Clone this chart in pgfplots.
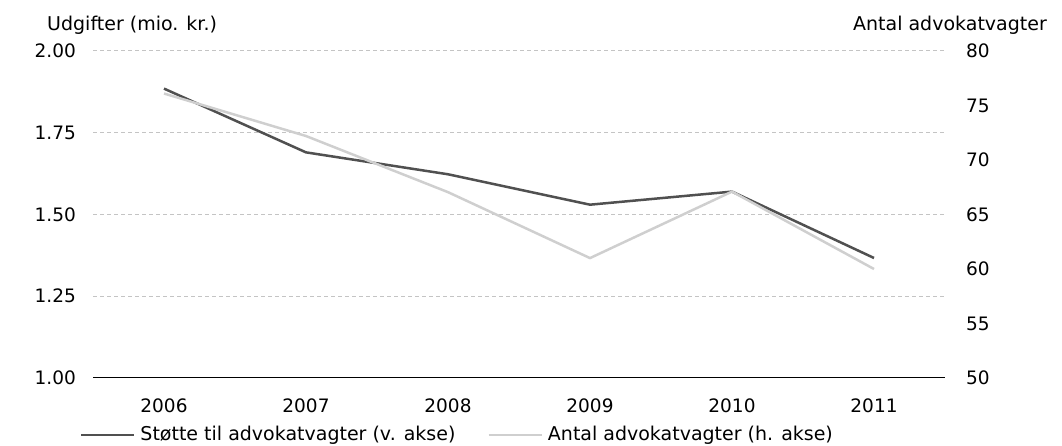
\documentclass[border=0pt]{standalone}
\usepackage{pgfplots}
\pgfplotsset{compat=1.18}
\usepackage{fontspec}
\setmainfont{DejaVu Sans}
\definecolor{darkline}{HTML}{505050}
\definecolor{lightline}{HTML}{CFCFCF}
\definecolor{gridc}{HTML}{C4C4C4}
\begin{document}
\fontsize{18bp}{22bp}\selectfont
\begin{tikzpicture}
\useasboundingbox (0,0) rectangle (1062bp,446bp);
\begin{axis}[
  at={(93bp,68bp)}, anchor=south west,
  scale only axis, width=852bp, height=327bp,
  xmin=-0.5, xmax=5.5, ymin=1, ymax=2,
  xtick={0,1,2,3,4,5},
  xticklabels={2006,2007,2008,2009,2010,2011},
  ytick={1,1.25,1.5,1.75,2},
  yticklabel style={/pgf/number format/fixed,/pgf/number format/precision=2,/pgf/number format/fixed zerofill},
  /pgf/number format/assume math mode=true,
  tick label style={font=\fontsize{18.5bp}{22bp}\selectfont, inner sep=0pt},
  yticklabel shift=17bp,
  xticklabel shift=21bp,
  major tick length=0pt,
  axis x line*=bottom, axis y line*=left,
  x axis line style={black, line width=1bp},
  y axis line style={draw=none},
  ymajorgrids, grid style={gridc, line width=1bp, dash pattern=on 4bp off 3bp},
]
\addplot[darkline, line width=2.5bp] coordinates {(0,1.885) (1,1.69) (2,1.623) (3,1.53) (4,1.57) (5,1.367)};
\end{axis}
\begin{axis}[
  at={(93bp,68bp)}, anchor=south west,
  scale only axis, width=852bp, height=327bp,
  xmin=-0.5, xmax=5.5, ymin=50, ymax=80,
  ytick={50,55,60,65,70,75,80},
  /pgf/number format/assume math mode=true,
  tick label style={font=\fontsize{18.5bp}{22bp}\selectfont, inner sep=0pt},
  yticklabel shift=21bp,
  major tick length=0pt,
  axis x line=none, axis y line*=right,
  y axis line style={draw=none},
  legend columns=2,
  legend image code/.code={\draw[#1] (0bp,0bp) -- (53bp,0bp);},
  legend style={draw=none, fill=none, inner sep=0pt, outer sep=0pt,
    at={(-0.0153,-0.1743)}, anchor=west,
    font=\fontsize{19bp}{22bp}\selectfont,
    nodes={inner sep=0pt, anchor=west},
    /tikz/every odd column/.append style={column sep=5bp},
    /tikz/every even column/.append style={column sep=32bp}},
]
\addlegendimage{darkline, line width=2.5bp}
\addlegendentry{Støtte til advokatvagter (v. akse)}
\addplot[lightline, line width=2.5bp] coordinates {(0,76.1) (1,72.2) (2,67.05) (3,61) (4,67.1) (5,60)};
\addlegendentry{Antal advokatvagter (h. akse)}
\end{axis}
\node[anchor=west, inner sep=0pt, font=\fontsize{19bp}{22bp}\selectfont] at (47bp,421bp) {Udgifter (mio. kr.)};
\node[anchor=east, inner sep=0pt, font=\fontsize{19bp}{22bp}\selectfont] at (1047bp,421bp) {Antal advokatvagter};
\end{tikzpicture}
\end{document}
